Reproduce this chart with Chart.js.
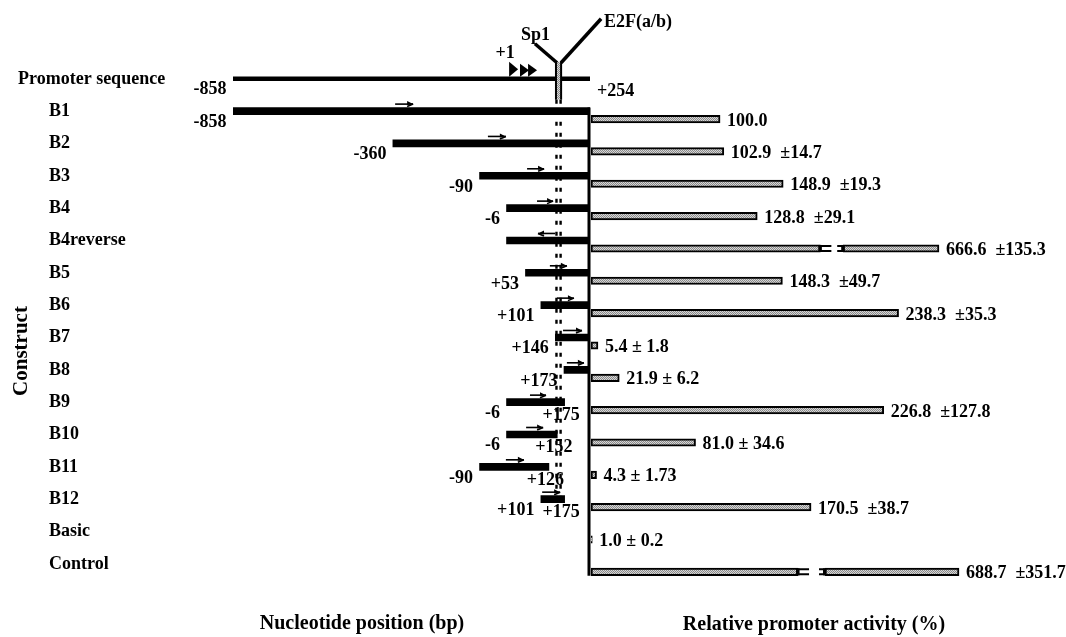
<!DOCTYPE html>
<html><head><meta charset="utf-8"><title>Promoter deletion constructs and activity</title>
<script src="https://cdn.jsdelivr.net/npm/chart.js@4.4.1/dist/chart.umd.min.js"></script>
<style>
html,body{margin:0;padding:0;background:#fff;overflow:hidden}
#wrap{position:relative;width:1066px;height:637px;background:#fff}
#wrap canvas{position:absolute;left:0;top:0}
</style></head><body>
<div id="wrap">
<canvas id="nt" width="1066" height="637" style="width:1066px;height:637px"></canvas>
<canvas id="act" width="1066" height="637" style="width:1066px;height:637px"></canvas>
</div>
<script>
// ---------------- data ----------------
const constructs = ["Promoter sequence","B1","B2","B3","B4","B4reverse","B5","B6","B7","B8","B9","B10","B11","B12","Basic","Control"];
// fragment boundaries (bp)
const fragStart = [-858,-858,-360,-90,-6,-6,53,101,146,173,-6,-6,-90,101,null,null];
const fragEnd   = [254,254,254,254,254,254,254,254,254,254,175,152,126,175,null,null];
const startLabels = ["-858","-858","-360","-90","-6","","+53","+101","+146","+173","-6","-6","-90","+101","",""];
const endLabels   = ["+254","","","","","","","","","","+175","+152","+126","+175","",""];
// orientation arrows (bp, from -> to)
const arrowFrom = [null,-353,-64,58,89,145,129,151,170,182,67,55,-8,105,null,null];
const arrowTo   = [null,-297,-8,111,139,92,182,204,229,235,117,108,48,161,null,null];
// transcription start sites and the Sp1 / E2F(a/b) element (bp)
const tssSites = [2, 36, 61];
const siteSpan = [148, 164];
// relative promoter activity (%)
const activity = [null,100.0,102.9,148.9,128.8,666.6,148.3,238.3,5.4,21.9,226.8,81.0,4.3,170.5,1.0,688.7];
const activitySD = ["","","  ±14.7","  ±19.3","  ±29.1","  ±135.3","  ±49.7","  ±35.3"," ± 1.8"," ± 6.2","  ±127.8"," ± 34.6"," ± 1.73","  ±38.7"," ± 0.2","  ±351.7"];
// broken-axis bars: first segment end, second segment start, drawn end (axis units)
const breakFrom  = [null,null,null,null,null,177.7,null,null,null,null,null,null,null,null,null,160.4];
const breakTo    = [null,null,null,null,null,195.4,null,null,null,null,null,null,null,null,null,181.3];
const breakShown = [null,null,null,null,null,269.6,null,null,null,null,null,null,null,null,null,285.1];

// ---------------- styles ----------------
const FAM = '"Liberation Serif","Times New Roman",Times,serif';
const F = s => `bold ${s}px ${FAM}`;
function stipple(){
  const c=document.createElement('canvas');c.width=2;c.height=2;
  const g=c.getContext('2d');
  g.fillStyle='#d6d6d6';g.fillRect(0,0,2,2);
  g.fillStyle='#8a8a8a';g.fillRect(0,0,1,1);g.fillRect(1,1,1,1);
  return g.createPattern(c,'repeat');
}
const grey = stipple();
const ACT_SHIFT = 8;

function arrow(ctx,x0,x1,y){
  const d = x1 > x0 ? 1 : -1;
  ctx.lineWidth=1.6;
  ctx.beginPath();ctx.moveTo(x0,y);ctx.lineTo(x1,y);ctx.stroke();
  ctx.beginPath();ctx.moveTo(x1,y);ctx.lineTo(x1-6*d,y-3);ctx.lineTo(x1-6*d,y+1);ctx.closePath();ctx.fill();
  ctx.beginPath();ctx.moveTo(x1,y);ctx.lineTo(x1-6*d,y+2.5);ctx.stroke();
}

// ---------------- left panel (nucleotide positions) ----------------
const leftDecor = {
  id:'leftDecor',
  beforeDatasetsDraw(chart){
    const {ctx,scales:{x,y}}=chart;
    const X=v=>x.getPixelForValue(v), Y=i=>y.getPixelForValue(i);
    ctx.save();
    ctx.strokeStyle='#000';ctx.lineWidth=2.4;ctx.setLineDash([4,7]);
    const top=Y(0)+21, bot=Y(13)-2;
    [X(siteSpan[0])+0.5, X(siteSpan[1])-0.5].forEach(xx=>{
      ctx.beginPath();ctx.moveTo(xx,top);ctx.lineTo(xx,bot);ctx.stroke();
    });
    ctx.restore();
  },
  afterDatasetsDraw(chart){
    const {ctx,scales:{x,y}}=chart;
    const X=v=>x.getPixelForValue(v), Y=i=>y.getPixelForValue(i);
    ctx.save();
    ctx.fillStyle='#000';ctx.strokeStyle='#000';
    // element box
    const ex0=X(siteSpan[0]), ex1=X(siteSpan[1]);
    const eTop=Y(0)-17, eBot=Y(0)+21;
    ctx.fillStyle=grey;ctx.fillRect(ex0,eTop,ex1-ex0,eBot-eTop);
    ctx.fillStyle='#000';
    ctx.lineWidth=2;ctx.beginPath();
    ctx.moveTo(ex0,eTop);ctx.lineTo(ex0,eBot);ctx.moveTo(ex1,eTop);ctx.lineTo(ex1,eBot);ctx.stroke();
    ctx.lineWidth=3.5;
    ctx.beginPath();ctx.moveTo(ex0+1,eTop+1);ctx.lineTo(ex0-21,eTop-18);ctx.stroke();
    ctx.beginPath();ctx.moveTo(ex1,eTop+1);ctx.lineTo(ex1+40,eTop-43);ctx.stroke();
    ctx.font=F(18);ctx.textBaseline='alphabetic';
    ctx.textAlign='center';ctx.fillText('Sp1',ex0-20.5,eTop-22);
    ctx.textAlign='left';ctx.fillText('E2F(a/b)',ex1+43,eTop-35);
    // transcription start sites
    const yb=Y(0)-2;
    tssSites.forEach((bp,k)=>{
      const tx=X(bp), h=k===0?15:13;
      ctx.beginPath();ctx.moveTo(tx,yb-h);ctx.lineTo(tx,yb);ctx.lineTo(tx+9,yb-h/2);ctx.closePath();ctx.fill();
    });
    ctx.textAlign='center';ctx.fillText('+1',X(tssSites[0])-4,Y(0)-21);
    // row labels
    constructs.forEach((c,i)=>{
      ctx.textAlign='left';ctx.fillText(c,i===0?18:49,Y(i)+5);
    });
    // position labels
    constructs.forEach((c,i)=>{
      if(fragStart[i]==null)return;
      const yc=Y(i);
      if(startLabels[i]){ctx.textAlign='right';ctx.fillText(startLabels[i],X(fragStart[i])-6.5,yc+(i===0?15:16));}
      if(endLabels[i]){
        if(i===0){ctx.textAlign='left';ctx.fillText(endLabels[i],X(fragEnd[i])+7,yc+17);}
        else{ctx.textAlign='center';ctx.fillText(endLabels[i],X(fragEnd[i])-3.5,yc+18);}
      }
      if(arrowFrom[i]!=null) arrow(ctx,X(arrowFrom[i]),X(arrowTo[i]),yc-7);
    });
    // titles
    ctx.font=F(20);ctx.textAlign='center';
    ctx.fillText('Nucleotide position (bp)',362,629);
    ctx.save();ctx.translate(22,351);ctx.rotate(-Math.PI/2);
    ctx.font=F(21);ctx.textBaseline='middle';ctx.fillText('Construct',0,0);ctx.restore();
    ctx.restore();
  }
};

new Chart(document.getElementById('nt'),{
  type:'bar',
  data:{labels:constructs,datasets:[
    {label:'Promoter sequence',data:constructs.map((c,i)=>i===0?[fragStart[i],fragEnd[i]]:null),
     backgroundColor:'#000',barThickness:4,grouped:false},
    {label:'Constructs',data:constructs.map((c,i)=>i>0&&fragStart[i]!=null?[fragStart[i],fragEnd[i]]:null),
     backgroundColor:'#000',barThickness:7,grouped:false}
  ]},
  options:{indexAxis:'y',responsive:false,animation:false,events:[],
    layout:{padding:{left:233,right:476,top:62.6,bottom:57}},
    scales:{x:{type:'linear',min:-858,max:254,display:false},y:{type:'category',offset:true,display:false}},
    plugins:{legend:{display:false},tooltip:{enabled:false},title:{display:false}}},
  plugins:[leftDecor]
});

// ---------------- right panel (relative activity) ----------------
const rightDecor = {
  id:'rightDecor',
  afterDatasetsDraw(chart){
    const {ctx,scales:{x,y}}=chart;
    const X=v=>x.getPixelForValue(v), Y=i=>y.getPixelForValue(i);
    ctx.save();ctx.fillStyle='#000';ctx.strokeStyle='#000';
    // baseline axis
    ctx.lineWidth=3;ctx.beginPath();
    ctx.moveTo(X(0)-2,Y(1)-ACT_SHIFT-3.5);ctx.lineTo(X(0)-2,Y(constructs.length-1)+4);ctx.stroke();
    // break brackets
    ctx.lineWidth=2;
    constructs.forEach((c,i)=>{
      if(breakFrom[i]==null)return;
      const yc=Y(i), a=X(breakFrom[i]), b=X(breakTo[i]);
      ctx.fillRect(a-2,yc-3.5,3.5,7);
      ctx.beginPath();
      ctx.moveTo(a,yc-2.5);ctx.lineTo(a+11,yc-2.5);ctx.moveTo(a,yc+2.5);ctx.lineTo(a+11,yc+2.5);
      ctx.moveTo(b-6,yc-2.5);ctx.lineTo(b,yc-2.5);ctx.moveTo(b-6,yc+2.5);ctx.lineTo(b,yc+2.5);
      ctx.stroke();
      ctx.fillRect(b-2,yc-3.5,3,7);
    });
    // value labels
    ctx.font=F(18);ctx.textAlign='left';ctx.textBaseline='alphabetic';
    constructs.forEach((c,i)=>{
      if(activity[i]==null)return;
      const end=breakShown[i]!=null?breakShown[i]:activity[i];
      ctx.fillText(activity[i].toFixed(1)+activitySD[i],X(end)+7,Y(i)+6.5);
    });
    ctx.font=F(20);ctx.textAlign='center';
    ctx.fillText('Relative promoter activity (%)',814,630);
    ctx.restore();
  }
};

const barStyle={backgroundColor:grey,borderColor:'#000',borderWidth:2,borderSkipped:false,barThickness:7.5,grouped:false};
new Chart(document.getElementById('act'),{
  type:'bar',
  data:{labels:constructs,datasets:[
    Object.assign({label:'Activity',data:constructs.map((c,i)=>activity[i]==null?null:[0,breakFrom[i]!=null?breakFrom[i]:activity[i]])},barStyle),
    Object.assign({label:'Activity (beyond break)',data:constructs.map((c,i)=>breakTo[i]==null?null:[breakTo[i],breakShown[i]])},barStyle)
  ]},
  options:{indexAxis:'y',responsive:false,animation:false,events:[],
    layout:{padding:{left:591,right:0,top:62.6+ACT_SHIFT,bottom:57-ACT_SHIFT}},
    scales:{x:{type:'linear',min:0,max:368,display:false},y:{type:'category',offset:true,display:false}},
    plugins:{legend:{display:false},tooltip:{enabled:false},title:{display:false}}},
  plugins:[rightDecor]
});
</script>
</body></html>
